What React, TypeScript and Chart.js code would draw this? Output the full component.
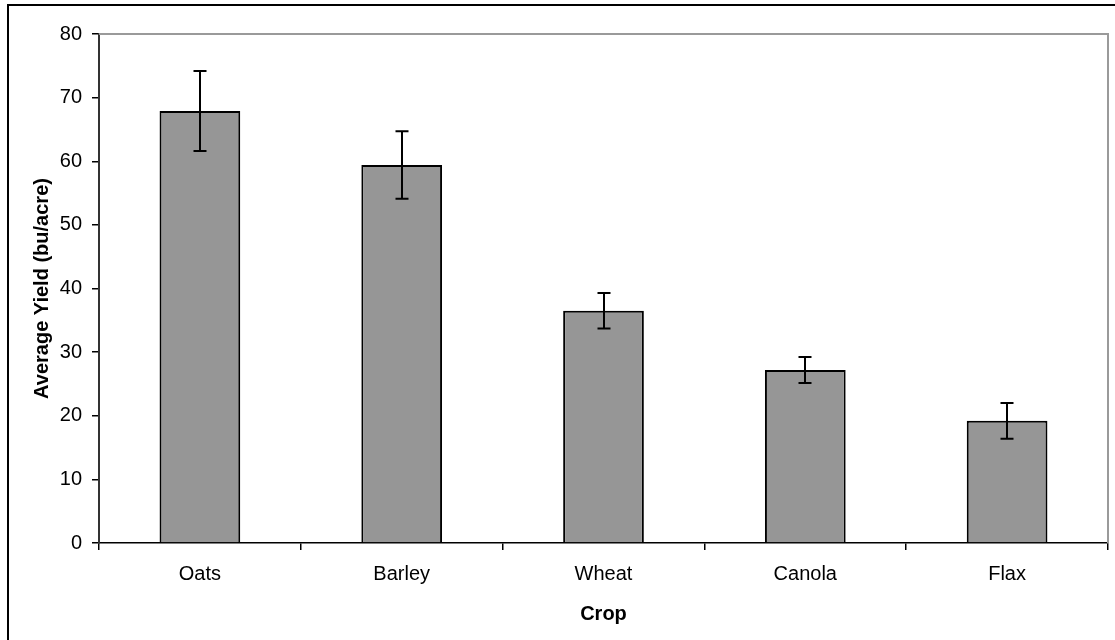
import React, { useEffect, useRef } from "react";
import { Chart, registerables } from "chart.js";

Chart.register(...registerables);

const categories = ["Oats", "Barley", "Wheat", "Canola", "Flax"];
const yieldValues = [67.9, 59.4, 36.5, 27.2, 19.2];
const errorValues = [6.3, 5.3, 2.8, 2.05, 2.8];
const yTickValues = [0, 10, 20, 30, 40, 50, 60, 70, 80];

const FONT = '"Liberation Sans", Arial, Helvetica, sans-serif';

const framePlugin = {
  id: "frame",
  beforeDraw(chart: any) {
    const { ctx, width, height } = chart;
    ctx.save();
    ctx.fillStyle = "#ffffff";
    ctx.fillRect(0, 0, width, height);
    ctx.strokeStyle = "#000000";
    ctx.lineWidth = 2;
    ctx.beginPath();
    ctx.moveTo(8, height + 2);
    ctx.lineTo(8, 5);
    ctx.lineTo(width + 2, 5);
    ctx.stroke();
    ctx.restore();
  },
  beforeDatasetsDraw(chart: any) {
    const { ctx, chartArea } = chart;
    ctx.save();
    ctx.strokeStyle = "#9a9a9a";
    ctx.lineWidth = 2;
    ctx.beginPath();
    ctx.moveTo(chartArea.left, chartArea.top);
    ctx.lineTo(chartArea.right, chartArea.top);
    ctx.lineTo(chartArea.right, chartArea.bottom);
    ctx.stroke();
    ctx.restore();
  },
};

const errorBarPlugin = {
  id: "errorBars",
  afterDatasetsDraw(chart: any) {
    const { ctx } = chart;
    const meta = chart.getDatasetMeta(0);
    const yScale = chart.scales.y;
    ctx.save();
    ctx.strokeStyle = "#000000";
    ctx.lineWidth = 2;
    meta.data.forEach((bar: any, i: number) => {
      const v = yieldValues[i];
      const e = errorValues[i];
      const yTop = yScale.getPixelForValue(v + e);
      const yBot = yScale.getPixelForValue(v - e);
      const x = Math.round(bar.x);
      const cap = 6.5;
      ctx.beginPath();
      ctx.moveTo(x, yTop);
      ctx.lineTo(x, yBot);
      ctx.moveTo(x - cap, yTop);
      ctx.lineTo(x + cap, yTop);
      ctx.moveTo(x - cap, yBot);
      ctx.lineTo(x + cap, yBot);
      ctx.stroke();
    });
    ctx.restore();
  },
};

export default function App() {
  const ref = useRef<HTMLCanvasElement | null>(null);

  useEffect(() => {
    if (!ref.current) return;
    const chart = new Chart(ref.current, {
      type: "bar",
      data: {
        labels: categories,
        datasets: [
          {
            label: "Average Yield",
            data: yieldValues,
            backgroundColor: "#969696",
            borderColor: "#000000",
            borderWidth: 2,
            barPercentage: 0.4,
            categoryPercentage: 1,
          },
        ],
      },
      options: {
        responsive: false,
        animation: false,
        devicePixelRatio: 1,
        layout: { padding: { top: 34, right: 7, left: 0, bottom: 0 } },
        plugins: {
          legend: { display: false },
          tooltip: { enabled: false },
        },
        scales: {
          x: {
            afterFit(scale: any) {
              scale.height = 97;
            },
            grid: {
              offset: true,
              drawOnChartArea: false,
              drawTicks: true,
              tickLength: 7,
              color: "#000000",
              lineWidth: 1.5,
            },
            border: { color: "#000000", width: 1.5 },
            ticks: {
              color: "#000000",
              font: { family: FONT, size: 20 },
              padding: 12,
              maxRotation: 0,
            },
            title: {
              display: true,
              text: "Crop",
              color: "#000000",
              font: { family: FONT, size: 20, weight: "bold" },
              padding: { top: 0, bottom: 14 },
            },
          },
          y: {
            min: 0,
            max: 80,
            afterFit(scale: any) {
              scale.width = 99;
            },
            afterBuildTicks(scale: any) {
              scale.ticks = yTickValues.map((v) => ({ value: v }));
            },
            grid: {
              drawOnChartArea: false,
              drawTicks: true,
              tickLength: 7,
              color: "#000000",
              lineWidth: 1.5,
            },
            border: { color: "#333333", width: 2 },
            ticks: {
              color: "#000000",
              font: { family: FONT, size: 20 },
              padding: 10,
            },
            title: {
              display: true,
              text: "Average Yield (bu/acre)",
              color: "#000000",
              font: { family: FONT, size: 20, weight: "bold" },
              padding: { top: 30, bottom: 0 },
            },
          },
        },
      },
      plugins: [framePlugin, errorBarPlugin],
    });
    return () => chart.destroy();
  }, []);

  return (
    <canvas
      ref={ref}
      width={1115}
      height={640}
      style={{ position: "fixed", left: 0, top: 0, width: 1115, height: 640, display: "block" }}
    />
  );
}
